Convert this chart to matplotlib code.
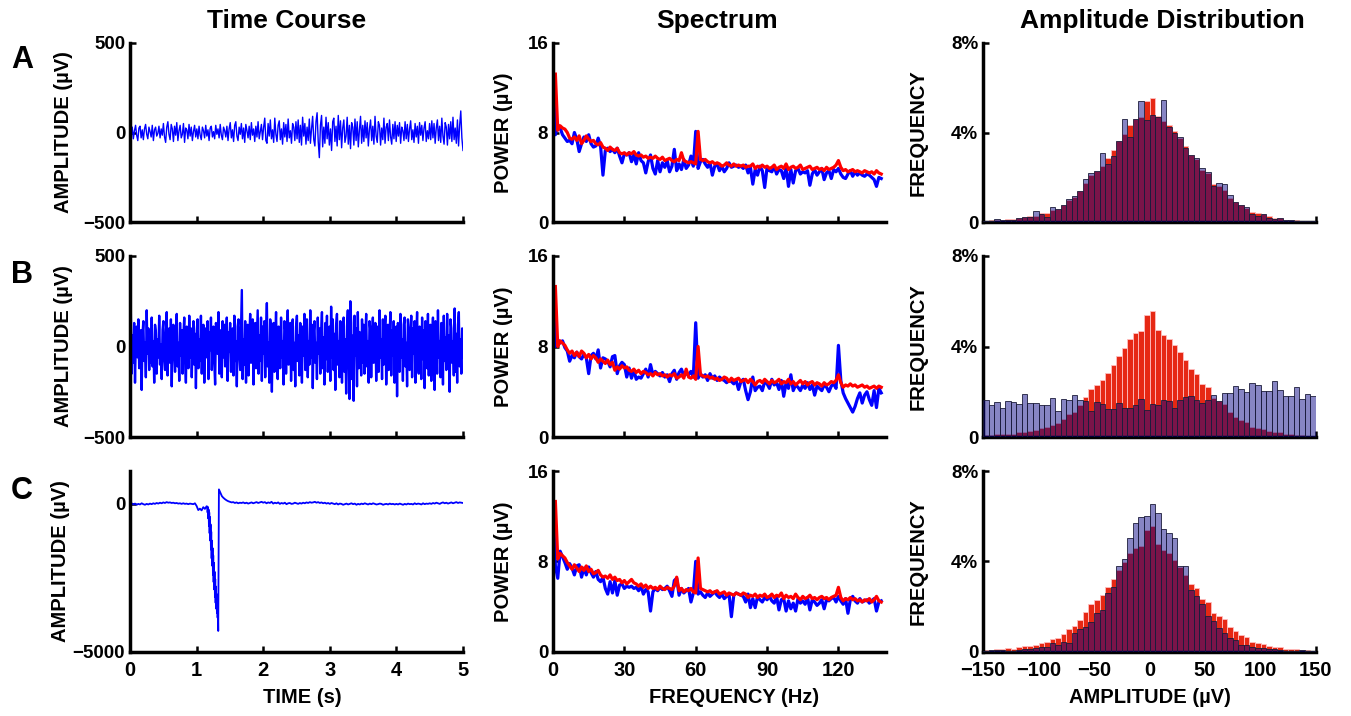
import numpy as np
import matplotlib.pyplot as plt

plt.rcParams['font.family'] = ['Liberation Sans', 'DejaVu Sans']
plt.rcParams['font.weight'] = 'bold'
plt.rcParams['axes.labelweight'] = 'bold'

# ---- time course (uV) ----
amp_a = [5, -20, 30, -35, 10, 40, -15, -45, 25, 35, -30, 15, -40, 20, 45, -10, -35, 30, 5, -25, 40, -45, 15, 30, -20, -5, 35, -30, 20, -15,
         50, -25, -55, 30, 60, -10, -40, 45, 20, -50, 35, -15, 55, -45, 10, 40, -30, -10, 50, -55, 25, 15, -35, 45, -20, 30, -45, 5, 40, -25,
         20, -35, 35, -15, -40, 30, 10, -30, 40, -20, 15, -45, 25, 35, -25, 5, -35, 40, -10, 20, -30, 45, -15, -40, 30, 10, -25, 35, -45, 20,
         55, -30, 15, -50, 40, 60, -20, -45, 30, -10, 50, -35, 25, -55, 45, 10, -30, 35, -40, 55, -15, 20, -50, 35, -25, 60, -35, 5, 45, -40,
         30, 80, -45, -60, 50, -20, 70, -35, 15, -55, 80, -10, -50, 40, 65, -40, 20, -65, 55, -25, 45, -50, 75, -30, 10, -60, 50, 30, -45, 60,
         -35, 70, -55, 40, -70, 85, -20, 50, -65, 30, -45, 75, -60, 20, 90, -40, -75, 60, 110, -50, -140, 40, 95, -80, 30, -60, 85, -35, 55, -70,
         20, -100, 60, 80, -50, 35, -75, 95, -40, 65, -85, 25, 70, -55, -20, 85, -65, 40, -90, 55, 30, -70, 75, -45, 60, -80, 15, 90, -60, 40,
         -50, 65, -30, 55, -75, 20, 70, -45, 35, -65, 90, -20, -55, 60, 40, -70, 25, -40, 80, -60, 30, 50, -45, 70, -25, -65, 45, -35, 60, -50,
         40, -20, 55, -60, 30, 10, -45, 60, -35, 45, -50, 20, 65, -40, 15, -55, 50, -25, 35, -60, 55, -15, 40, -45, 25, 60, -50, 10, -35, 50,
         -40, 65, -30, 50, -60, 25, 70, -45, 35, -55, 80, -20, -65, 55, 30, -70, 45, -35, 60, -50, 85, -40, 25, -60, 70, -75, 40, 120, -30, -100]

amp_b = [20, 180, -150, 60, -90, 130, -200, 40, 110, -60, 150, -120, -30, 90, -240, 70, 140, -80, 20, -170, 200, -40, 100, -130, 50, -90, 160, -110, 30, -200, 120, 80, -150, 40, -60, 170, -100, 10, -180, 90,
         140, -70, -130, 60, 190, -160, 30, 100, -90, 150, -220, 50, 120, -40, -140, 80, 180, -110, 20, -190, 130, -50, 90, -150, 60, 160, -80, -200, 110, 40, -120, 170, -60, 100, -170, 30, 140, -100, 70, -230,
         90, 150, -120, 40, -80, 170, -150, 60, 120, -200, 30, 100, -60, 140, -180, 80, -20, 160, -130, 50, 110, -90, -210, 130, 70, -40, 190, -150, 20, 90, -170, 140, -60, 120, -110, 40, 160, -190, 80, -30,
         130, -140, 60, 100, -160, 170, -80, 30, -220, 110, 150, -50, -130, 90, 312, -180, 40, -100, 140, -200, 70, 120, -160, 50, 180, -90, -30, 150, -210, 90, 130, -120, 40, 200, -150, 60, -80, 160, -190, 110,
         -40, 140, -170, 80, 240, -110, 20, -200, 150, 90, -250, 60, 130, -140, 40, 190, -90, -180, 110, 70, -120, 160, -60, 30, -210, 140, 90, -150, 50, 200, -100, -40, 130, -190, 80, 150, -130, 20, -220, 110,
         170, -80, 60, -160, 130, 40, -200, 110, -50, 180, -130, 90, 150, -170, 30, -100, 200, -60, 120, -230, 70, 140, -90, 20, -180, 160, -40, 100, -150, 80, 190, -120, 50, -210, 130, -70, 170, -140, 40, 110,
         -190, 220, -60, 150, -130, 70, -240, 120, 180, -100, 30, -170, 140, 90, -200, 60, 160, -140, 40, -260, 110, 200, -80, -290, 250, 130, -180, 60, -300, 170, -50, 100, -220, 190, -120, 80, 40, -160, 150, -90,
         120, -150, 60, 180, -110, 30, -200, 140, 90, -170, 50, 160, -90, -30, 130, -190, 70, 110, -140, 200, -60, 40, -180, 150, -100, 80, 170, -210, 20, 120, -130, 60, 190, -160, 90, -50, 140, -200, 30, 110,
         -275, 130, 70, -140, 180, -60, 40, -190, 120, 160, -110, 20, -220, 150, 80, -130, 50, 170, -170, 100, -40, 140, -200, 60, 190, -90, -150, 110, 30, -180, 160, -70, 90, -230, 140, 50, -120, 180, -160, 70,
         120, -190, 40, 160, -100, -240, 140, 80, -150, 200, -60, 30, -170, 130, 90, -210, 170, -80, 50, -130, 180, -120, 60, -250, 150, 100, -90, 30, -160, 210, -140, 70, -200, 120, 190, -110, 40, -150, 100, -60]

c_pre = [-20, 10, -30, 0, -40, -10, -30, 10, -20, -40, -10, -30, 0, -20, 10, -10, 20, 0, 30, 10,
         40, 20, 50, 30, 40, 20, 30, 10, 20, 0, 10, -10, 10, -10, 0, -20, 0, -10, -20, 10]
c_spike_t = [1.0, 1.025, 1.05, 1.075, 1.1, 1.125, 1.15,
             1.160, 1.165, 1.170, 1.175, 1.180, 1.185, 1.190, 1.195, 1.200, 1.205, 1.210, 1.215,
             1.220, 1.225, 1.230, 1.235, 1.240, 1.245, 1.250, 1.255, 1.260, 1.265, 1.270, 1.275,
             1.280, 1.285, 1.290, 1.295, 1.300, 1.305, 1.310, 1.315, 1.320, 1.325,
             1.335, 1.36, 1.38, 1.40, 1.425, 1.45, 1.475]
c_spike_v = [-80, -220, -170, -230, -120, -180, -90,
             -100, -300, -120, -500, -200, -750, -300, -1000, -450, -1250, -700, -1550,
             -950, -1850, -1250, -2100, -1500, -2400, -1750, -2650, -2000, -2900, -2300, -3150,
             -2550, -3350, -2800, -3550, -3050, -3700, -3300, -3850, -3600, -4300,
             480, 350, 250, 200, 150, 110, 80]
c_post = [60, 40, 50, 20, 40, 10, 30, 20, 40, 10, 30, 0, 20, 40, 10, 30, 50, 20, 40, 60,
          30, 50, 10, 40, 20, 60, 0, 30, 10, 40, -10, 20, 0, 30, -20, 10, 20, -10, 0, 30,
          10, -10, 20, 0, 30, 10, 40, 20, 50, 30, 40, 60, 30, 50, 20, 40, 10, 30, 0, 20,
          -10, 20, 0, -20, 10, -30, 0, -10, -40, -20, 0, -30, -10, 10, -20, 0, -40, -10, -30, 0,
          -20, 10, -10, -30, 0, -20, 10, -10, -30, -20, 0, -10, -40, -20, -10, -30, 0, -20, -10, -30,
          -10, -30, 0, -20, -40, -10, -30, 0, -20, -10, -30, 10, -20, 0, -10, -30, 10, -20, 0, -10,
          10, -10, 20, 0, 30, 10, -10, 20, 40, 10, 30, 0, 20, 40, 10, 30, 50, 20, 40, 30, 20]

# ---- spectra ----
freq_blue = np.arange(0, 139)
freq_red = np.arange(1, 139)

pow_red_a = [13.2, 8.2, 8.6, 8.4, 8.3, 8.0, 7.5, 7.4, 7.6, 7.3, 7.7, 7.0, 7.3, 7.7, 7.4, 7.2, 7.3, 7.0, 6.9, 7.1,
             6.7, 6.6, 6.4, 6.7, 6.5, 6.4, 6.6, 6.2, 6.1, 6.2, 6.0, 6.2, 6.1, 6.3, 6.0, 5.9, 6.0, 5.8, 5.9, 5.7,
             5.8, 5.7, 5.9, 5.7, 5.6, 5.8, 5.5, 5.6, 5.7, 5.5, 5.4, 5.6, 5.5, 6.2, 5.5, 5.4, 5.3, 5.4, 5.3, 5.2,
             8.1, 5.6, 5.5, 5.6, 5.4, 5.3, 5.4, 5.2, 5.3, 5.2, 5.0, 5.1, 5.3, 5.1, 5.0, 5.2, 5.0, 5.1, 5.0, 5.1,
             4.9, 5.0, 5.0, 5.2, 4.8, 5.0, 4.9, 5.1, 4.9, 5.0, 4.8, 4.9, 5.1, 4.7, 4.9, 5.0, 4.8, 5.2, 4.7, 4.9,
             5.0, 4.8, 4.9, 5.1, 4.7, 4.8, 4.9, 5.0, 4.7, 4.8, 4.9, 4.7, 4.8, 4.6, 4.9, 4.7, 4.8, 4.9, 5.1, 5.5,
             4.9, 4.6, 4.7, 4.5, 4.6, 4.7, 4.5, 4.6, 4.5, 4.4, 4.6, 4.5, 4.4, 4.5, 4.3, 4.6, 4.4, 4.3]
pow_blue_a = [13.2, 7.8, 8.7, 8.4, 7.8, 7.5, 7.2, 7.3, 7.0, 8.0, 7.4, 6.3, 7.0, 7.6, 7.2, 7.8, 7.0, 6.7, 6.8, 7.5,
              6.8, 4.2, 6.4, 6.6, 6.3, 6.5, 6.2, 6.6, 5.9, 5.3, 6.1, 6.0, 6.2, 5.4, 6.0, 5.2, 6.2, 5.5, 5.3, 4.4,
              5.4, 6.0, 4.8, 4.3, 5.5, 4.5, 5.3, 4.9, 5.5, 4.5, 5.0, 6.5, 4.6, 5.2, 4.7, 5.6, 4.8, 5.1, 5.9, 5.0,
              8.1, 4.8, 5.4, 5.6, 5.2, 4.9, 5.3, 4.2, 5.0, 5.2, 4.6, 5.0, 4.5, 4.8, 5.3, 4.9, 5.0, 5.1, 4.9, 5.0,
              4.8, 5.1, 4.4, 4.9, 3.4, 4.7, 4.2, 5.0, 4.6, 3.1, 4.9, 4.6, 4.5, 5.0, 4.3, 4.7, 4.6, 3.9, 4.9, 3.2,
              4.7, 3.5, 4.6, 4.8, 4.3, 4.5, 4.4, 4.6, 3.3, 4.3, 4.7, 4.2, 4.5, 4.8, 3.8, 4.4, 4.6, 3.9, 4.7, 4.5,
              4.8, 4.3, 4.0, 3.9, 4.3, 4.6, 4.1, 4.5, 4.2, 4.4, 4.2, 4.1, 4.3, 4.2, 4.0, 3.8, 3.2, 4.0, 3.9]

pow_red_b = [13.3, 8.0, 8.5, 8.3, 8.1, 7.7, 7.4, 7.6, 7.2, 7.5, 7.1, 7.6, 7.4, 7.0, 7.3, 6.9, 7.2, 7.0, 6.6, 6.9,
             6.7, 6.5, 6.8, 6.4, 6.6, 5.9, 6.2, 6.0, 6.3, 6.1, 6.2, 5.9, 5.8, 6.0, 5.7, 5.9, 5.6, 5.8, 5.7, 5.5,
             5.6, 5.4, 5.7, 5.5, 5.6, 5.4, 5.5, 5.3, 5.5, 5.4, 5.6, 5.2, 5.3, 5.5, 5.2, 6.0, 5.3, 5.2, 5.4, 5.1,
             8.0, 5.5, 5.4, 5.3, 5.4, 5.2, 5.3, 5.1, 5.2, 5.0, 5.1, 5.3, 5.2, 4.9, 5.2, 5.0, 5.1, 5.2, 4.9, 5.0,
             5.1, 4.8, 5.1, 4.9, 4.6, 4.9, 5.0, 4.8, 5.1, 4.9, 4.7, 5.0, 4.8, 4.9, 5.1, 4.7, 4.9, 4.8, 5.1, 4.7,
             4.9, 4.6, 4.8, 5.0, 4.7, 4.9, 4.6, 4.8, 4.9, 4.6, 4.8, 4.7, 4.5, 4.8, 4.6, 4.7, 4.9, 4.8, 5.0, 5.5,
             4.8, 4.4, 4.6, 4.5, 4.7, 4.5, 4.6, 4.4, 4.5, 4.6, 4.4, 4.5, 4.3, 4.4, 4.5, 4.3, 4.5, 4.4]
pow_blue_b = [13.2, 8.0, 8.6, 8.3, 8.5, 7.9, 7.6, 6.7, 7.2, 7.0, 7.5, 7.1, 6.9, 7.3, 7.0, 5.6, 7.2, 7.4, 6.9, 7.7,
              6.1, 7.0, 6.9, 6.7, 6.2, 7.1, 7.2, 5.6, 6.3, 6.6, 6.4, 5.3, 6.1, 5.2, 5.9, 5.1, 5.3, 5.2, 5.6, 6.0,
              5.3, 6.4, 5.5, 5.8, 5.6, 5.4, 5.7, 5.3, 5.5, 4.9, 5.6, 5.9, 5.1, 5.7, 6.0, 5.4, 5.6, 5.5, 5.8, 5.3,
              10.1, 5.2, 5.6, 5.3, 5.5, 5.0, 5.6, 5.2, 5.4, 5.0, 5.3, 5.1, 5.0, 4.8, 5.0, 4.9, 4.7, 5.0, 4.2, 4.9,
              5.1, 4.1, 3.3, 4.0, 5.3, 4.1, 4.4, 4.5, 4.1, 4.9, 4.7, 4.3, 5.1, 4.6, 4.8, 4.2, 5.0, 3.6, 4.8, 4.3,
              5.5, 4.1, 4.6, 4.4, 4.1, 4.6, 4.3, 4.8, 4.2, 4.6, 3.7, 4.5, 4.3, 4.1, 4.6, 4.4, 4.0, 4.5, 4.7, 4.3,
              8.1, 5.0, 3.9, 3.4, 3.0, 2.6, 2.2, 2.7, 3.4, 3.9, 3.0, 3.7, 4.0, 3.3, 2.8, 4.1, 2.6, 4.3, 3.9]

pow_red_c = [13.3, 8.2, 8.7, 8.5, 8.3, 7.9, 7.6, 7.3, 7.7, 7.4, 7.1, 7.5, 7.2, 7.6, 7.1, 7.3, 6.9, 7.0, 7.2, 6.8,
             6.6, 6.7, 6.5, 6.8, 6.4, 6.6, 6.3, 6.4, 6.1, 6.3, 6.0, 6.2, 6.4, 6.1, 6.0, 5.8, 6.0, 5.7, 5.9, 5.6,
             5.8, 5.6, 5.7, 5.5, 5.8, 5.6, 5.5, 5.7, 5.6, 5.5, 5.8, 6.6, 5.4, 5.6, 5.3, 5.5, 5.4, 5.6, 5.3, 5.2,
             8.3, 5.6, 5.5, 5.4, 5.3, 5.4, 5.2, 5.3, 5.4, 5.1, 5.2, 5.3, 5.0, 5.2, 5.1, 5.0, 5.2, 5.1, 5.0, 5.2,
             5.1, 4.8, 5.0, 4.9, 5.1, 4.8, 5.0, 4.9, 5.1, 4.8, 4.9, 5.1, 4.8, 5.0, 4.9, 5.2, 4.7, 5.0, 4.8, 4.9,
             4.7, 5.1, 4.8, 4.6, 4.9, 4.7, 4.8, 5.0, 4.7, 4.8, 4.6, 4.8, 4.9, 4.7, 4.8, 4.6, 4.8, 4.9, 5.0, 5.7,
             4.8, 4.5, 4.7, 4.6, 4.8, 4.6, 4.7, 4.5, 4.6, 4.4, 4.6, 4.5, 4.7, 4.4, 4.6, 4.9, 4.5, 4.4]
pow_blue_c = [13.2, 7.6, 6.5, 8.9, 8.4, 7.9, 7.3, 7.8, 7.4, 6.8, 7.6, 7.7, 6.6, 7.4, 6.8, 7.5, 7.0, 6.6, 7.1, 6.4,
              6.2, 6.6, 5.6, 5.1, 6.2, 5.2, 6.3, 5.0, 5.9, 6.0, 5.6, 5.8, 5.7, 5.8, 5.6, 5.7, 5.4, 5.8, 5.1, 5.5,
              5.3, 3.6, 5.3, 5.6, 5.4, 5.7, 5.5, 5.6, 5.8, 5.4, 4.9, 6.3, 6.5, 5.0, 5.6, 5.2, 5.4, 5.6, 4.4, 5.2,
              8.0, 5.1, 5.3, 5.0, 4.8, 5.2, 4.9, 5.1, 5.3, 5.0, 4.8, 5.1, 4.7, 4.9, 5.1, 3.1, 5.0, 5.2, 5.1, 5.0,
              4.9, 4.4, 5.1, 3.9, 4.7, 3.9, 4.9, 4.6, 4.4, 4.8, 4.6, 4.9, 4.5, 4.3, 4.9, 3.7, 4.6, 4.7, 3.6, 4.5,
              3.8, 4.3, 3.6, 4.7, 4.3, 4.5, 4.2, 4.8, 3.7, 4.6, 4.4, 4.1, 4.3, 4.6, 3.8, 4.6, 4.5, 4.7, 4.8, 4.4,
              4.9, 4.5, 4.2, 4.7, 3.4, 4.6, 4.9, 4.5, 4.3, 4.7, 4.4, 4.5, 4.6, 4.3, 4.5, 4.7, 3.6, 4.4, 4.5]

# ---- amplitude histograms (% per 5 uV bin) ----
bin_left = np.arange(-150, 150, 5)
hist_red = [0.07, 0.09, 0.12, 0.12, 0.15, 0.13, 0.2, 0.24, 0.27, 0.3, 0.4, 0.42, 0.55, 0.6, 0.78, 1.0, 1.12, 1.4, 1.75, 2.1,
            2.3, 2.5, 2.85, 3.2, 3.6, 3.95, 4.35, 4.6, 4.7, 5.4, 5.55, 4.75, 4.5, 4.35, 4.05, 3.75, 3.4, 3.0, 2.8, 2.35,
            2.2, 1.72, 1.6, 1.45, 1.1, 0.9, 0.75, 0.65, 0.45, 0.4, 0.35, 0.27, 0.2, 0.2, 0.12, 0.12, 0.1, 0.08, 0.06, 0.05]
hist_blue_a = [0.05, 0.05, 0.15, 0.12, 0.1, 0.12, 0.18, 0.22, 0.25, 0.52, 0.35, 0.22, 0.7, 0.6, 0.78, 1.05, 1.15, 1.38, 1.95, 2.2,
               2.3, 3.1, 2.6, 2.95, 3.6, 4.6, 3.8, 4.6, 5.4, 4.55, 4.8, 4.7, 5.45, 4.25, 4.0, 3.8, 3.3, 3.0, 2.85, 2.4,
               2.25, 1.6, 1.75, 1.7, 1.2, 0.9, 0.75, 0.7, 0.35, 0.3, 0.37, 0.2, 0.15, 0.18, 0.1, 0.1, 0.08, 0.06, 0.04, 0.05]
hist_blue_b = [1.65, 1.4, 1.55, 1.28, 1.6, 1.55, 1.47, 1.9, 1.5, 1.5, 1.43, 1.4, 1.72, 1.13, 1.68, 1.62, 1.87, 1.62, 1.6, 1.15,
               1.55, 1.47, 1.24, 1.24, 1.5, 1.28, 1.3, 1.4, 1.68, 1.2, 1.47, 1.43, 1.65, 1.6, 1.28, 1.65, 1.75, 1.82, 1.65, 1.5,
               1.62, 1.87, 1.6, 1.94, 1.94, 2.26, 2.13, 2.0, 2.38, 2.3, 2.05, 2.05, 2.48, 2.08, 1.82, 1.82, 2.2, 1.68, 1.9, 1.82]
hist_blue_c = [0.05, 0.08, 0.08, 0.08, 0.05, 0.05, 0.07, 0.1, 0.12, 0.15, 0.2, 0.2, 0.37, 0.3, 0.45, 0.4, 0.84, 1.0, 1.1, 1.3,
               1.7, 1.85, 2.6, 2.85, 3.8, 4.1, 5.05, 5.7, 5.95, 6.0, 6.55, 6.15, 5.45, 5.25, 5.05, 3.8, 3.8, 2.75, 2.45, 2.1,
               1.6, 1.35, 1.05, 0.85, 0.6, 0.5, 0.3, 0.3, 0.2, 0.18, 0.15, 0.1, 0.1, 0.06, 0.05, 0.05, 0.04, 0.08, 0.05, 0.04]

W, H = 1351, 716
fig = plt.figure(figsize=(W / 100, H / 100), dpi=100)

col_left = [130, 553, 983]
col_w = 333
rows = [(42.7, 222.3), (256, 437), (471, 651.7)]


def make_ax(r, c):
    top, bot = rows[r]
    ax = fig.add_axes([col_left[c] / W, 1 - bot / H, col_w / W, (bot - top) / H])
    for s in ['top', 'right']:
        ax.spines[s].set_visible(False)
    for s in ['left', 'bottom']:
        ax.spines[s].set_linewidth(2.5)
    ax.tick_params(direction='in', length=4, width=1.8, labelsize=13.5)
    ax.tick_params(axis='x', labelsize=14.5, pad=7)
    return ax


time_data = [(np.linspace(0, 5, len(amp_a)), amp_a, 1.0),
             (np.linspace(0, 5, len(amp_b)), amp_b, 1.7),
             (np.concatenate([np.linspace(0, 0.975, len(c_pre)), c_spike_t, np.linspace(1.5, 5.0, len(c_post))]),
              c_pre + c_spike_v + c_post, 1.3)]
spec_data = [(pow_blue_a, pow_red_a), (pow_blue_b, pow_red_b), (pow_blue_c, pow_red_c)]
hist_data = [hist_blue_a, hist_blue_b, hist_blue_c]

for r in range(3):
    # time course
    ax = make_ax(r, 0)
    t, v, lw = time_data[r]
    ax.plot(t, v, color='#0000ff', lw=lw)
    ax.set_xlim(0, 5)
    ax.set_xticks(range(6))
    ax.set_ylabel('AMPLITUDE (µV)', fontsize=14.5)
    if r < 2:
        ax.set_ylim(-500, 500)
        ax.set_yticks([-500, 0, 500])
        ax.set_xticklabels([])
        ax.yaxis.set_label_coords(-0.172, 0.5)
    else:
        ax.set_ylim(-5000, 1100)
        ax.set_yticks([-5000, 0])
        ax.set_xlabel('TIME (s)', fontsize=14.5)
        ax.xaxis.set_label_coords(0.517, -0.2)
        ax.yaxis.set_label_coords(-0.18, 0.5)

    # spectrum
    ax = make_ax(r, 1)
    pb, pr = spec_data[r]
    ax.plot(freq_blue, pb, color='#0000ff', lw=2.3)
    ax.plot(freq_red, pr, color='#ff0000', lw=2.3)
    ax.set_xlim(0, 140)
    ax.set_ylim(0, 16)
    ax.set_xticks([0, 30, 60, 90, 120])
    ax.set_yticks([0, 8, 16])
    ax.set_ylabel('POWER (µV)', fontsize=14.5)
    ax.yaxis.set_label_coords(-0.12, 0.5)
    if r < 2:
        ax.set_xticklabels([])
    else:
        ax.set_xlabel('FREQUENCY (Hz)', fontsize=14.5)
        ax.xaxis.set_label_coords(0.543, -0.2)

    # amplitude distribution
    ax = make_ax(r, 2)
    ax.bar(bin_left, hist_red, width=5, align='edge', color='#e62814',
           edgecolor=(1, 0.75, 0.75), lw=0.6, zorder=2)
    ax.bar(bin_left, hist_data[r], width=5, align='edge', color=(0.02, 0, 0.52, 0.48),
           edgecolor=(0.1, 0.1, 0.22, 0.85), lw=0.7, zorder=3)
    ax.set_xlim(-150, 150)
    ax.set_ylim(0, 8)
    ax.set_xticks([-150, -100, -50, 0, 50, 100, 150])
    ax.set_yticks([0, 4, 8])
    ax.set_yticklabels(['0', '4%', '8%'])
    ax.set_ylabel('FREQUENCY', fontsize=14.5)
    ax.yaxis.set_label_coords(-0.165, 0.5)
    if r < 2:
        ax.set_xticklabels([])
    else:
        ax.set_xlabel('AMPLITUDE (µV)', fontsize=14.5)
        ax.xaxis.set_label_coords(0.5, -0.2)

# column titles and panel letters
fig.text(287 / W, 1 - 21 / H, 'Time Course', ha='center', va='center', fontsize=19, fontweight='bold')
fig.text(717 / W, 1 - 21 / H, 'Spectrum', ha='center', va='center', fontsize=19, fontweight='bold')
fig.text(1162 / W, 1 - 21 / H, 'Amplitude Distribution', ha='center', va='center', fontsize=19, fontweight='bold')
for letter, y in zip('ABC', [60, 275, 491]):
    fig.text(22 / W, 1 - y / H, letter, ha='center', va='center', fontsize=22, fontweight='bold')

fig.savefig('out.png', dpi=100)
